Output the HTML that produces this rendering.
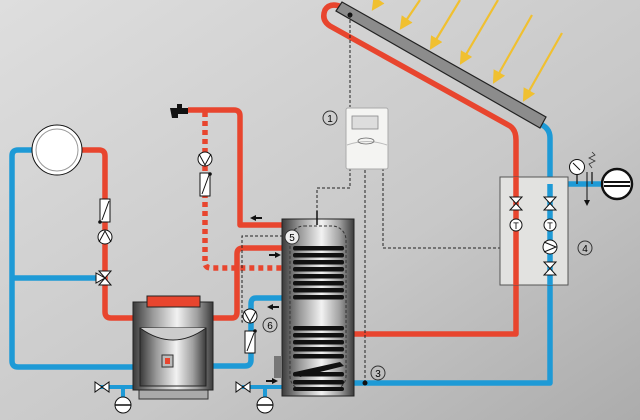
<!DOCTYPE html>
<html><head><meta charset="utf-8"><style>
html,body{margin:0;padding:0;width:640px;height:420px;overflow:hidden}
svg{display:block}
text{font-family:"Liberation Sans",sans-serif}
</style></head><body>
<svg width="640" height="420" viewBox="0 0 640 420" xmlns="http://www.w3.org/2000/svg">
<defs>
<linearGradient id="bg" x1="0" y1="0" x2="1" y2="1">
<stop offset="0" stop-color="#dedede"/><stop offset="0.6" stop-color="#c8c8c8"/><stop offset="1" stop-color="#acacac"/>
</linearGradient>
<linearGradient id="metal" x1="0" y1="0" x2="1" y2="0">
<stop offset="0" stop-color="#3a3a3a"/><stop offset="0.25" stop-color="#9a9a9a"/><stop offset="0.55" stop-color="#f2f2f2"/><stop offset="0.8" stop-color="#a0a0a0"/><stop offset="1" stop-color="#3a3a3a"/>
</linearGradient>
<marker id="ah" markerWidth="6" markerHeight="6" refX="5" refY="3" orient="auto"><path d="M0,0 L6,3 L0,6z" fill="#f0c030"/></marker>
<marker id="bk" markerWidth="6" markerHeight="6" refX="5" refY="3" orient="auto"><path d="M0,0 L6,3 L0,6z" fill="#111"/></marker>
</defs>
<rect width="640" height="420" fill="url(#bg)"/>

<g stroke="#f0c030" stroke-width="2.2" marker-end="url(#ah)">
<line x1="379" y1="0" x2="373" y2="9"/>
<line x1="420" y1="0" x2="401" y2="28"/>
<line x1="460" y1="0" x2="431" y2="48"/>
<line x1="498" y1="0" x2="461" y2="63"/>
<line x1="532" y1="15" x2="494" y2="82"/>
<line x1="562" y1="33" x2="524" y2="100"/>
</g>

<g fill="none" stroke-width="5.5" stroke-linejoin="round" stroke-linecap="butt">
<path d="M342,7 Q330,2 325,10 Q321,20 330,26 L510,126 Q516,130 516,140 L516,334 L354,334" stroke="#e8452e"/>
<path d="M540,124 Q550,128 550,138 L550,383 L354,383" stroke="#1e9ad6"/>
<path d="M550,184 L602,184" stroke="#1e9ad6"/>
<path d="M188,110 L234,110 Q240,110 240,116 L240,225 L282,225" stroke="#e8452e"/>
<path d="M205,112 L205,262 Q205,268 211,268 L282,268" stroke="#e8452e" stroke-dasharray="5,4"/>
<path d="M213,318 L232,318 Q237,318 237,312 L237,254 Q237,248 243,248 L282,248" stroke="#e8452e"/>
<path d="M282,298 L256,298 Q251,298 251,304 L251,360 Q251,366 245,366 L213,366" stroke="#1e9ad6"/>
<path d="M82,150 L99,150 Q105,150 105,156 L105,312 Q105,318 111,318 L133,318" stroke="#e8452e"/>
<path d="M32,150 L18,150 Q12,150 12,156 L12,361 Q12,367 18,367 L133,367" stroke="#1e9ad6"/>
<path d="M12,278 L97,278" stroke="#1e9ad6"/>
<path d="M100,387 L133,387 M123,387 L123,398" stroke="#1e9ad6" stroke-width="4"/>
<path d="M242,387 L282,387 M265,387 L265,398" stroke="#1e9ad6" stroke-width="4"/>
</g>

<polygon points="336,11 342,2 546,117 540,128" fill="#8c8c8c" stroke="#222" stroke-width="1.2"/>
<circle cx="350" cy="15" r="2.5" fill="#111"/>

<g fill="none" stroke="#222" stroke-width="1" stroke-dasharray="3,2">
<path d="M350,15 L350,107"/>
<path d="M350,168 L350,188 L317,188 L317,212"/>
<path d="M365,170 L365,383"/>
<path d="M383,168 L383,248 L545,248"/>
<path d="M288,236 L242,236 L242,322 L245,322"/>
</g>
<circle cx="365" cy="383" r="2.5" fill="#111"/>

<rect x="346" y="108" width="42" height="61" rx="2" fill="#f4f4f2" stroke="#aaa"/>
<rect x="352" y="116" width="26" height="13" fill="#ddd" stroke="#888" stroke-width="0.8"/>
<path d="M347,145 Q367,138 387,145" fill="none" stroke="#bbb"/>
<ellipse cx="366" cy="141" rx="8" ry="3" fill="none" stroke="#666" stroke-width="0.8"/>

<rect x="500" y="177" width="68" height="108" fill="#e2e2e0" stroke="#555"/>
<path d="M516,177 L516,285" stroke="#e8452e" stroke-width="5.5"/>
<path d="M550,184 L550,285" stroke="#1e9ad6" stroke-width="5.5"/>
<g fill="#fff" stroke="#111" stroke-width="1">
<path d="M510,197 L522,197 L510,210 L522,210 Z"/>
<path d="M544,197 L556,197 L544,210 L556,210 Z"/>
<path d="M544,262 L556,262 L544,275 L556,275 Z"/>
<circle cx="516" cy="225" r="6"/><circle cx="550" cy="225" r="6"/>
<circle cx="550" cy="247" r="7"/>
</g>
<path d="M544,242 L556,247 L544,252" fill="none" stroke="#111"/>
<text x="516" y="229" font-size="9" text-anchor="middle">T</text>
<text x="550" y="229" font-size="9" text-anchor="middle">T</text>
<circle cx="585" cy="248" r="7" fill="none" stroke="#333"/><text x="585" y="252" font-size="10" text-anchor="middle">4</text>

<path d="M577,175 L577,184 M592,172 L592,184" stroke="#333" stroke-width="1.5"/>
<circle cx="577" cy="167" r="7.5" fill="#fff" stroke="#111"/>
<line x1="573" y1="163" x2="580" y2="170" stroke="#111"/>
<path d="M592,152 L595,155 L589,158 L595,161 L589,164 L592,168" fill="none" stroke="#333" stroke-width="0.8"/>
<line x1="587" y1="172" x2="587" y2="205" stroke="#111" stroke-width="1" marker-end="url(#bk)"/>
<circle cx="617" cy="184" r="15" fill="#fff" stroke="#111" stroke-width="2.5"/>
<line x1="604" y1="182" x2="630" y2="182" stroke="#111" stroke-width="2"/>
<line x1="604" y1="186" x2="630" y2="186" stroke="#111" stroke-width="2"/>

<rect x="282" y="219" width="72" height="177" fill="url(#metal)" stroke="#222"/>
<rect x="290" y="226" width="56" height="164" rx="14" fill="none" stroke="#333" stroke-dasharray="3,2"/>
<line x1="317" y1="211" x2="317" y2="225" stroke="#111" stroke-width="1.5"/>
<g fill="#111">
<rect x="293" y="246" width="51" height="4.5" rx="2"/>
<rect x="293" y="253" width="51" height="4.5" rx="2"/>
<rect x="293" y="260" width="51" height="4.5" rx="2"/>
<rect x="293" y="267" width="51" height="4.5" rx="2"/>
<rect x="293" y="274" width="51" height="4.5" rx="2"/>
<rect x="293" y="281" width="51" height="4.5" rx="2"/>
<rect x="293" y="288" width="51" height="4.5" rx="2"/>
<rect x="293" y="295" width="51" height="4.5" rx="2"/>
<rect x="293" y="326" width="51" height="4.5" rx="2"/>
<rect x="293" y="333" width="51" height="4.5" rx="2"/>
<rect x="293" y="340" width="51" height="4.5" rx="2"/>
<rect x="293" y="347" width="51" height="4.5" rx="2"/>
<rect x="293" y="354" width="51" height="4.5" rx="2"/>
<path d="M295,372 L340,362 L344,366 L300,377 Z"/>
<rect x="293" y="372" width="51" height="4.5" rx="2"/>
<rect x="293" y="380" width="51" height="4.5" rx="2"/>
<rect x="293" y="387" width="51" height="4" rx="2"/>
</g>
<circle cx="292" cy="237" r="7" fill="#eee" stroke="#333"/><text x="292" y="241" font-size="10" text-anchor="middle">5</text>
<rect x="274" y="356" width="8" height="22" fill="#777"/>

<path d="M170,108 L188,108 L188,114 L178,114 L178,118 L172,118 Z" fill="#111"/>
<rect x="177" y="104" width="5" height="4" fill="#111"/>

<g fill="#111">
<path d="M250,218 l6,-3 v2 h6 v2 h-6 v2z"/>
<path d="M281,255 l-6,-3 v2 h-6 v2 h6 v2z"/>
<path d="M267,307 l6,-3 v2 h6 v2 h-6 v2z"/>
<path d="M278,381 l-6,-3 v2 h-6 v2 h6 v2z"/>
</g>

<g fill="#fff" stroke="#111" stroke-width="1">
<circle cx="205" cy="159" r="7"/>
<rect x="200" y="173" width="10" height="23"/>
<rect x="100" y="199" width="10" height="23"/>
<circle cx="105" cy="237" r="7"/>
<circle cx="250" cy="316" r="7"/>
<rect x="245" y="331" width="10" height="22"/>
<path d="M99,271 L111,271 L99,285 L111,285 Z"/>
<path d="M96,273 L105,278 L96,283 Z"/>
<circle cx="57" cy="150" r="25"/>
<circle cx="57" cy="150" r="21" fill="none" stroke="#999"/>
</g>
<g fill="none" stroke="#111">
<path d="M199,154 L205,165 L211,154"/>
<path d="M99,242 L105,231 L111,242"/>
<path d="M244,311 L250,322 L256,311"/>
<line x1="202" y1="194" x2="209" y2="175"/>
<line x1="102" y1="220" x2="109" y2="201"/>
<line x1="247" y1="351" x2="254" y2="333"/>
</g>
<circle cx="210" cy="174" r="1.8" fill="#111"/><circle cx="100" cy="222" r="1.8" fill="#111"/><circle cx="255" cy="331" r="1.8" fill="#111"/>
<circle cx="270" cy="325" r="7" fill="none" stroke="#333"/><text x="270" y="329" font-size="10" text-anchor="middle">6</text>
<circle cx="330" cy="118" r="7" fill="none" stroke="#333"/><text x="330" y="122" font-size="10" text-anchor="middle">1</text>
<circle cx="378" cy="373" r="7" fill="none" stroke="#333"/><text x="378" y="377" font-size="10" text-anchor="middle">3</text>

<rect x="139" y="389" width="69" height="10" fill="#aaa" stroke="#333"/>
<rect x="133" y="302" width="80" height="88" fill="url(#metal)" stroke="#222"/>
<rect x="147" y="296" width="53" height="11" fill="#e8452e" stroke="#222"/>
<path d="M140,328 L206,328 L206,386 L140,386 Z" fill="url(#metal)" stroke="#222"/>
<path d="M140,328 Q173,352 206,328" fill="#ccc" stroke="#222"/>
<rect x="162" y="355" width="11" height="12" fill="#bbb" stroke="#333"/>
<rect x="165" y="358" width="5" height="6" fill="#e8452e"/>

<g fill="#fff" stroke="#111">
<path d="M95,382 L95,392 L109,382 L109,392 Z"/>
<path d="M236,382 L236,392 L250,382 L250,392 Z"/>
<circle cx="123" cy="405" r="8"/><circle cx="265" cy="405" r="8"/>
</g>
<line x1="115" y1="405" x2="131" y2="405" stroke="#111" stroke-width="1.5"/>
<line x1="257" y1="405" x2="273" y2="405" stroke="#111" stroke-width="1.5"/>
</svg>
</body></html>
